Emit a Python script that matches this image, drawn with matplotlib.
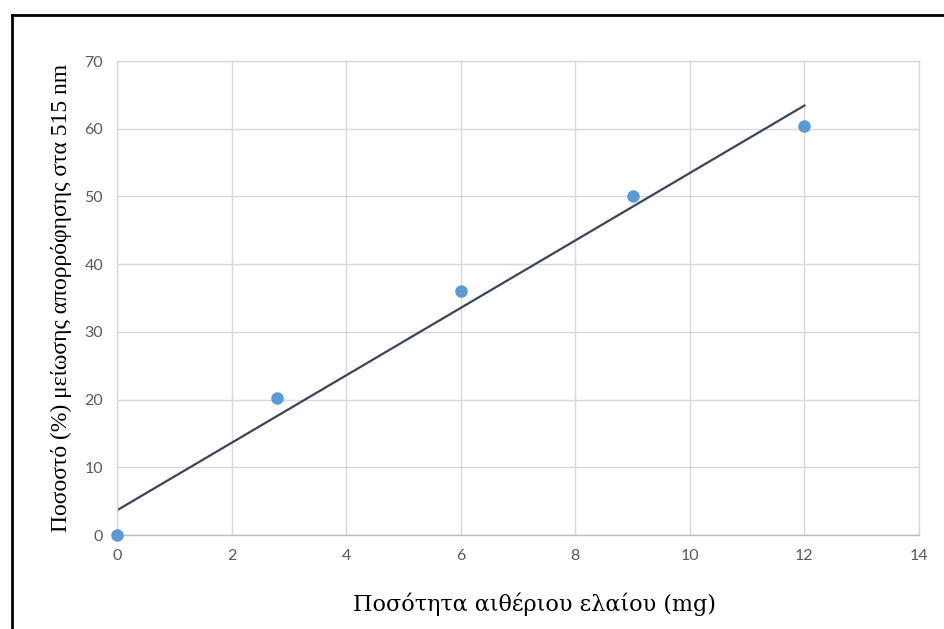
import matplotlib.pyplot as plt
from matplotlib.lines import Line2D
import numpy as np

# data
x_mg = [0, 2.8, 6, 9, 12]
y_pct = [0, 20.2, 36.1, 50, 60.4]
x_ticks = [0, 2, 4, 6, 8, 10, 12, 14]
y_ticks = [0, 10, 20, 30, 40, 50, 60, 70]

fig = plt.figure(figsize=(9.45, 6.29), dpi=100)
ax = fig.add_axes([0.1238, 0.1494, 0.8487, 0.7536])

grid_c = '#d9d9d9'
ax.set_xlim(0, 14)
ax.set_ylim(0, 70)
ax.set_xticks(x_ticks)
ax.set_yticks(y_ticks)
ax.grid(True, color=grid_c, linewidth=1)
ax.set_axisbelow(True)
for s in ax.spines.values():
    s.set_color(grid_c)
    s.set_linewidth(1)
ax.spines['bottom'].set_color('#bfbfbf')
ax.tick_params(length=0, pad=10, labelsize=11.5, labelcolor='#595959')
for lbl in ax.get_xticklabels() + ax.get_yticklabels():
    lbl.set_family('Lato')

# linear trend line
slope, icpt = np.polyfit(x_mg, y_pct, 1)
xs = np.array([0, 12])
ax.plot(xs, slope * xs + icpt, color='#3a4559', linewidth=1.6, zorder=2)

ax.plot(x_mg, y_pct, 'o', color='#5b9bd5', markersize=8, clip_on=False, zorder=3)

ax.set_xlabel('Ποσότητα αιθέριου ελαίου (mg)', family='DejaVu Serif',
              fontsize=16, labelpad=21)
ax.xaxis.label.set_x(0.521)
ax.set_ylabel('Ποσοστό (%) μείωσης απορρόφησης στα 515 nm', family='Liberation Serif',
              fontsize=17, labelpad=9)

# frame (left and top) around the figure
fig.add_artist(Line2D([12 / 945, 12 / 945], [0, 1 - 15 / 629], color='black',
                      linewidth=2, transform=fig.transFigure))
fig.add_artist(Line2D([12 / 945, 1], [1 - 15 / 629, 1 - 15 / 629], color='black',
                      linewidth=2, transform=fig.transFigure))

fig.savefig('out.png', dpi=100)
